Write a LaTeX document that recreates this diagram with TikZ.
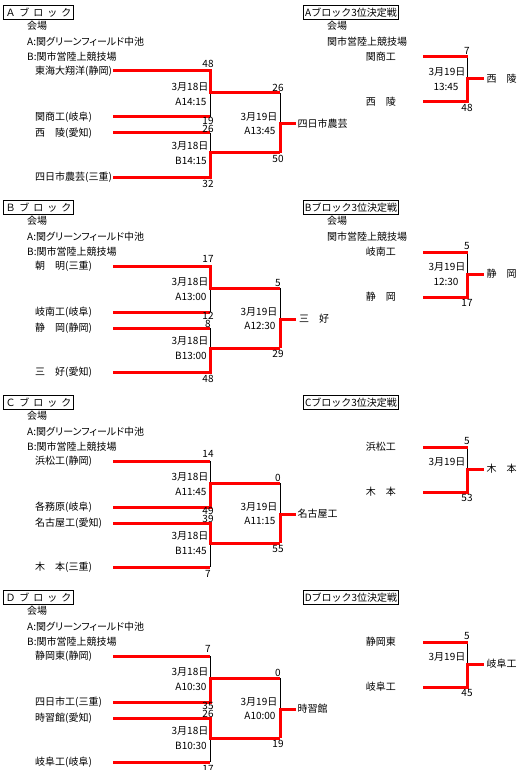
\documentclass[tikz,border=0pt]{standalone}
\usepackage{fontspec}
\setmainfont{Noto Sans CJK JP}
\newfontfamily\pfont{Noto Sans CJK JP}[RawFeature=+palt]
\newcommand{\fs}{\fontsize{10}{12}\selectfont}
\newcommand{\ttlchars}[1]{\makebox[14pt]{#1}\makebox[14pt]{ブ}\makebox[14pt]{ロ}\makebox[14pt]{ッ}\makebox[14pt]{ク}}
\tikzset{
  txt/.style={anchor=west, inner sep=0pt, font=\fs},
  rtxt/.style={anchor=east, inner sep=0pt, font=\fs},
  num/.style={inner sep=0pt, font=\fs},
  tbox/.style={draw, line width=1pt, anchor=north west, inner sep=0pt, minimum height=14pt, font=\fs},
  blk/.style={line width=1pt, black},
  win/.style={line width=3pt, red},
}
\newcommand{\venues}{%
  \node[txt] (v0) at (27,26) {会場};
  \node[txt] (v1) at (27,42) {\pfont A:関グリーンフィールド中池};
  \node[txt] (v2) at (27,57) {B:関市営陸上競技場};}
\newcommand{\geom}{%
  \coordinate (p1) at (113,71);  \coordinate (q1) at (210,71);
  \coordinate (p2) at (113,117); \coordinate (q2) at (210,117);
  \coordinate (p3) at (113,133); \coordinate (q3) at (210,133);
  \coordinate (p4) at (113,177); \coordinate (q4) at (210,177);
  \coordinate (m1) at (210,93);  \coordinate (n1) at (280,93);
  \coordinate (m2) at (210,153); \coordinate (n2) at (280,153);
  \coordinate (f) at (280,124);  \coordinate (fw) at (296,124);
  \draw[blk] (q1) -- (q2);
  \draw[blk] (q3) -- (q4);
  \draw[blk] (n1) -- (n2);
  \coordinate (r1) at (423,57);  \coordinate (s1) at (467.5,57);
  \coordinate (r2) at (423,102); \coordinate (s2) at (467.5,102);
  \coordinate (rm) at (467.5,79); \coordinate (rw) at (484,79);
  \draw[blk] (s1) -- (s2);
  \draw[win] (r1) -- (s1);
  \draw[win] (r2) -- (s2) -- (rm) -- (rw);
  \draw[win] (n2) -- (f) -- (fw);}
% #1 s1, #2 s2, #3 s3, #4 s4, #5 time1, #6 time2, #7 ftime, #8 fs1, #9 fs2
\newcommand{\labels}[9]{%
  \node[num] (sc1) at (208,64) {#1};
  \node[num] (sc2) at (208,121) {#2};
  \node[num] (sc3) at (208,129) {#3};
  \node[num] (sc4) at (208,183.5) {#4};
  \node[num] (d1) at (190,87) {3月18日};
  \node[num] (h1) at (191,101.5) {#5};
  \node[num] (d2) at (190,146) {3月18日};
  \node[num] (h2) at (191,161) {#6};
  \node[num] (fd) at (259,117) {3月19日};
  \node[num] (fh) at (260,131) {#7};
  \node[num] (fs1) at (278,87.5) {#8};
  \node[num] (fs2) at (278,159) {#9};}
\begin{document}
\begin{tikzpicture}[x=1pt, y=-1pt]
\useasboundingbox (0,0) rectangle (532,770);
\fill[white] (0,0) rectangle (532,770);

% ---------------- A block ----------------
\begin{scope}[name prefix=A-]
\node[tbox, minimum width=70pt] (title) at (3,5) {\ttlchars{Ａ}};
\venues
\node[txt] (t1) at (35,71) {東海大翔洋(静岡)};
\node[txt] (t2) at (35,117) {関商工(岐阜)};
\node[txt] (t3) at (35,133) {西　陵(愛知)};
\node[txt] (t4) at (35,177) {四日市農芸(三重)};
\geom
\draw[win] (p1) -- (q1) -- (m1) -- (n1);
\draw[win] (p2) -- (q2);
\draw[win] (p3) -- (q3);
\draw[win] (p4) -- (q4) -- (m2) -- (n2);
\labels{48}{19}{26}{32}{A14:15}{B14:15}{A13:45}{26}{50}
\node[txt] (win) at (297.5,124) {四日市農芸};
% third place
\node[tbox, minimum width=95pt] (rtitle) at (303,5) {Aブロック3位決定戦};
\node[txt] (rv0) at (327,26) {会場};
\node[txt] (rv1) at (327,42) {関市営陸上競技場};
\node[rtxt] (u1) at (396,57) {関商工};
\node[rtxt] (u2) at (396,102) {西　陵};
\node[num] (us1) at (467,50.5) {7};
\node[num] (us2) at (467,108) {48};
\node[num] (ud) at (447,72) {3月19日};
\node[num] (uh) at (446,87) {13:45};
\node[txt] (uw) at (486.5,79) {西　陵};
\end{scope}

% ---------------- B block ----------------
\begin{scope}[shift={(0,195)}, name prefix=B-]
\node[tbox, minimum width=70pt] (title) at (3,5) {\ttlchars{Ｂ}};
\venues
\node[txt] (t1) at (35,71) {朝　明(三重)};
\node[txt] (t2) at (35,117) {岐南工(岐阜)};
\node[txt] (t3) at (35,133) {静　岡(静岡)};
\node[txt] (t4) at (35,177) {三　好(愛知)};
\geom
\draw[win] (p1) -- (q1) -- (m1) -- (n1);
\draw[win] (p2) -- (q2);
\draw[win] (p3) -- (q3);
\draw[win] (p4) -- (q4) -- (m2) -- (n2);
\labels{17}{12}{8}{48}{A13:00}{B13:00}{A12:30}{5}{29}
\node[txt] (win) at (299,124) {三　好};
\node[tbox, minimum width=95pt] (rtitle) at (303,5) {Bブロック3位決定戦};
\node[txt] (rv0) at (327,26) {会場};
\node[txt] (rv1) at (327,42) {関市営陸上競技場};
\node[rtxt] (u1) at (396,57) {岐南工};
\node[rtxt] (u2) at (396,102) {静　岡};
\node[num] (us1) at (467,50.5) {5};
\node[num] (us2) at (467,108) {17};
\node[num] (ud) at (447,72) {3月19日};
\node[num] (uh) at (446,87) {12:30};
\node[txt] (uw) at (486.5,79) {静　岡};
\end{scope}

% ---------------- C block ----------------
\begin{scope}[shift={(0,390)}, name prefix=C-]
\node[tbox, minimum width=70pt] (title) at (3,5) {\ttlchars{Ｃ}};
\venues
\node[txt] (t1) at (35,71) {浜松工(静岡)};
\node[txt] (t2) at (35,117) {各務原(岐阜)};
\node[txt] (t3) at (35,133) {名古屋工(愛知)};
\node[txt] (t4) at (35,177) {木　本(三重)};
\geom
\draw[win] (p1) -- (q1);
\draw[win] (p2) -- (q2) -- (m1) -- (n1);
\draw[win] (p3) -- (q3) -- (m2) -- (n2);
\draw[win] (p4) -- (q4);
\labels{14}{49}{39}{7}{A11:45}{B11:45}{A11:15}{0}{55}
\node[txt] (win) at (297.5,124) {名古屋工};
\node[tbox, minimum width=95pt] (rtitle) at (303,5) {Cブロック3位決定戦};
\node[rtxt] (u1) at (396,57) {浜松工};
\node[rtxt] (u2) at (396,102) {木　本};
\node[num] (us1) at (467,50.5) {5};
\node[num] (us2) at (467,108) {53};
\node[num] (ud) at (447,72) {3月19日};
\node[txt] (uw) at (486.5,79) {木　本};
\end{scope}

% ---------------- D block ----------------
\begin{scope}[shift={(0,585)}, name prefix=D-]
\node[tbox, minimum width=70pt] (title) at (3,5) {\ttlchars{Ｄ}};
\venues
\node[txt] (t1) at (35,71) {静岡東(静岡)};
\node[txt] (t2) at (35,117) {四日市工(三重)};
\node[txt] (t3) at (35,133) {時習館(愛知)};
\node[txt] (t4) at (35,177) {岐阜工(岐阜)};
\geom
\draw[win] (p1) -- (q1);
\draw[win] (p2) -- (q2) -- (m1) -- (n1);
\draw[win] (p3) -- (q3) -- (m2) -- (n2);
\draw[win] (p4) -- (q4);
\labels{7}{35}{26}{17}{A10:30}{B10:30}{A10:00}{0}{19}
\node[txt] (win) at (297.5,124) {時習館};
\node[tbox, minimum width=95pt] (rtitle) at (303,5) {Dブロック3位決定戦};
\node[rtxt] (u1) at (396,57) {静岡東};
\node[rtxt] (u2) at (396,102) {岐阜工};
\node[num] (us1) at (467,50.5) {5};
\node[num] (us2) at (467,108) {45};
\node[num] (ud) at (447,72) {3月19日};
\node[txt] (uw) at (486.5,79) {岐阜工};
\end{scope}
\end{tikzpicture}
\end{document}
